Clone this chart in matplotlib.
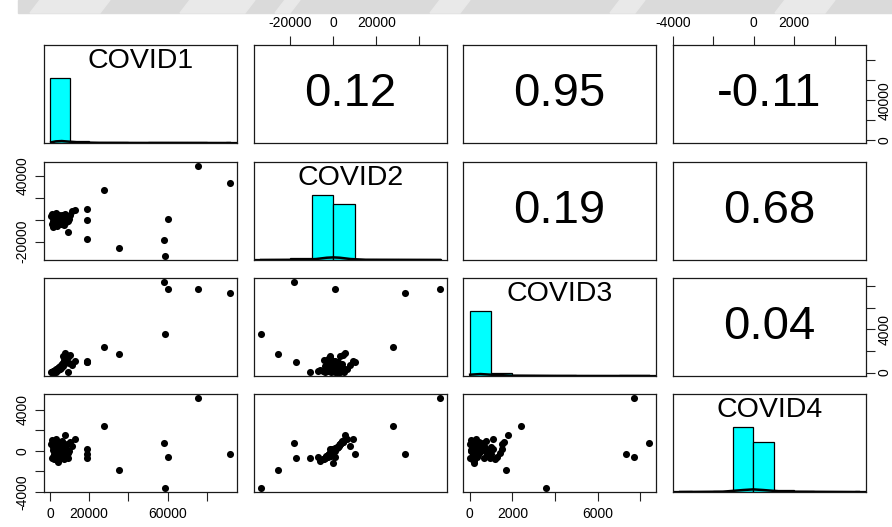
import numpy as np
import matplotlib
matplotlib.use('Agg')
from matplotlib import pyplot as plt
from matplotlib.patches import Rectangle, Polygon

plt.rcParams['font.family'] = ['Liberation Sans', 'DejaVu Sans']

#############################################
#DATA
names = ['COVID1', 'COVID2', 'COVID3', 'COVID4']

#one value per observation, same order in every variable
covid1 = [75400, 91800, 27700, 19000, 19000, 19000, 9200, 35000, 60000, 58000, 58500,
          600, 1000, 1200, 1500, 1800, 2000, 2200, 2500, 2800, 3000,
          3200, 3500, 3800, 4000, 4100, 4300, 4500, 4800, 5000, 5200,
          5500, 5800, 6000, 6200, 6500, 6800, 7000, 7200, 7500, 7700,
          8000, 8300, 8500, 9000, 9500, 10000, 11000, 12800, 3000, 6500,
          1500, 2500, 3500, 4500, 5500, 2000, 4000, 5000, 6000, 3000]
covid2 = [49500, 33200, 27600, 10100, 0, -17500, -11000, -25800, 900, -18400, -33500,
          3000, -4000, 5000, -1000, -7000, 2500, -5000, 4000, 0, -3500,
          6500, -2000, -6000, 1500, 0, -2500, 4500, -500, 3500, -1500,
          -4000, 2000, -2000, 1000, -3000, 500, -4500, 2000, -1000, 5600,
          -2500, 1000, 3000, -1500, 500, 4500, 8000, 9200, 1000, -1500,
          1500, -2500, 2500, -3500, 500, -1500, 3000, -500, 4000, -500]
covid3 = [7700, 7350, 2400, 1000, 1050, 950, 100, 1700, 7700, 8400, 3600,
          30, 20, 80, 60, 150, 100, 120, 200, 180, 250,
          300, 280, 220, 350, 200, 400, 450, 500, 600, 300,
          650, 550, 800, 700, 900, 600, 1200, 1000, 850, 1800,
          1300, 1100, 1500, 1400, 900, 1600, 660, 1100, 50, 1500,
          90, 140, 260, 330, 420, 170, 380, 480, 750, 230]
covid4 = [5200, -300, 2440, -300, 200, -700, -700, -1850, -600, 780, -3600,
          700, -700, 1100, 100, -600, 500, -800, 900, -100, -450,
          1200, -250, -900, 300, -1100, -350, 900, 0, 800, -150,
          -700, 400, -300, 300, -500, 150, -800, 400, -500, 1600,
          -600, 200, 700, -200, 0, 900, 500, 1200, 0, 200,
          400, -400, 600, -600, 100, -300, 700, -100, 1000, 250]

#correlations for the upper panels
corr_row = [0, 0, 0, 1, 1, 2]
corr_col = [1, 2, 3, 2, 3, 3]
corr_val = [0.12, 0.95, -0.11, 0.19, 0.68, 0.04]

#histogram bins (counts scaled to the tallest bar)
hist1_edges = [0, 10000, 20000, 30000, 40000, 50000, 60000, 70000, 80000, 90000, 100000]
hist1_heights = [1.0, 0.03, 0.01, 0.01, 0.0, 0.01, 0.01, 0.01, 0.0, 0.01]
hist2_edges = [-40000, -30000, -20000, -10000, 0, 10000, 20000, 30000, 40000, 50000]
hist2_heights = [0.01, 0.01, 0.03, 1.0, 0.86, 0.02, 0.01, 0.01, 0.01]
hist3_edges = [0, 1000, 2000, 3000, 4000, 5000, 6000, 7000, 8000, 9000]
hist3_heights = [1.0, 0.04, 0.01, 0.01, 0.01, 0.0, 0.0, 0.02, 0.02]
hist4_edges = [-4000, -3000, -2000, -1000, 0, 1000, 2000, 3000, 4000, 5000, 6000]
hist4_heights = [0.01, 0.0, 0.02, 1.0, 0.77, 0.03, 0.01, 0.0, 0.0, 0.01]

#density curves along the bottom of the histograms
dens1_x = [600, 3000, 6000, 10000, 15000, 25000, 50000, 91800]
dens1_y = [0.01, 0.025, 0.03, 0.02, 0.008, 0.002, 0.001, 0.0]
dens2_x = [-33500, -15000, -8000, -3000, 0, 3000, 8000, 15000, 49500]
dens2_y = [0.0, 0.003, 0.015, 0.035, 0.04, 0.035, 0.015, 0.003, 0.0]
dens3_x = [20, 500, 1000, 2000, 4000, 8400]
dens3_y = [0.02, 0.03, 0.02, 0.005, 0.001, 0.0]
dens4_x = [-3600, -1500, -500, 0, 500, 1500, 5200]
dens4_y = [0.0, 0.005, 0.03, 0.04, 0.03, 0.005, 0.0]

#axis ticks and which labels get printed on each side
ticks1 = [0, 20000, 40000, 60000, 80000]
ticks2 = [-20000, 0, 20000, 40000]
ticks3 = [0, 2000, 4000, 6000, 8000]
ticks4 = [-4000, -2000, 0, 2000, 4000]
bottom1 = ['0', '20000', '', '60000', '']
right1 = ['0', '', '40000', '', '']
top2 = ['-20000', '0', '20000', '']
left2 = ['-20000', '', '', '40000']
bottom3 = ['0', '2000', '', '6000', '']
right3 = ['0', '', '4000', '', '']
top4 = ['-4000', '', '0', '2000', '']
left4 = ['-4000', '', '0', '', '4000']
#############################################

data = [covid1, covid2, covid3, covid4]
hists = [(hist1_edges, hist1_heights), (hist2_edges, hist2_heights),
         (hist3_edges, hist3_heights), (hist4_edges, hist4_heights)]
dens = [(dens1_x, dens1_y), (dens2_x, dens2_y), (dens3_x, dens3_y), (dens4_x, dens4_y)]
ticks = [ticks1, ticks2, ticks3, ticks4]

#R style range: data range padded 4% each side
lims = []
for v in data:
    lo, hi = min(v), max(v)
    pad = 0.04 * (hi - lo)
    lims.append((lo - pad, hi + pad))

W, H = 892, 527
col_left = [44, 254, 463, 673]
row_top = [45, 162, 278, 394]
pw, ph = 193, 98

fig = plt.figure(figsize=(W / 100, H / 100), dpi=100)

#faint grey banner across the top edge
fig.patches.append(Rectangle((18 / W, 1 - 13 / H), (W - 18) / W, 13 / H,
                             transform=fig.transFigure, color='#dadada', zorder=0))
for x0, x1 in [(40, 110), (190, 255), (285, 300), (440, 470), (620, 645), (785, 835)]:
    fig.patches.append(Polygon([(x0 / W, 1), (x1 / W, 1), ((x1 - 10) / W, 1 - 13 / H),
                                ((x0 - 10) / W, 1 - 13 / H)],
                               transform=fig.transFigure, color='#e9e9e9', zorder=0))

tick_kw = dict(direction='out', length=6.5, width=0.8, labelsize=10, pad=4, color='#222222')

for i in range(4):
    for j in range(4):
        ax = fig.add_axes([col_left[j] / W, 1 - (row_top[i] + ph) / H, pw / W, ph / H])
        ax.set_xlim(lims[j])
        ax.set_ylim((0, 1.5) if i == j else lims[i])
        ax.set_xticks([])
        ax.set_yticks([])
        for s in ax.spines.values():
            s.set_linewidth(0.9)
            s.set_color('#1a1a1a')

        if i > j:
            ax.scatter(data[j], data[i], s=26, color='black', linewidths=0)
        elif i == j:
            edges, heights = hists[i]
            ax.bar(edges[:-1], heights, width=np.diff(edges), align='edge',
                   color='cyan', edgecolor='black', linewidth=0.9)
            ax.plot(dens[i][0], dens[i][1], color='black', linewidth=1.8)
            ax.text(0.5, 5 / 6, names[i], transform=ax.transAxes,
                    ha='center', va='center', fontsize=20.5)
        else:
            k = [n for n in range(6) if corr_row[n] == i and corr_col[n] == j][0]
            ax.text(0.5, 0.5, f'{corr_val[k]:.2f}', transform=ax.transAxes,
                    ha='center', va='center', fontsize=34)

        #outer axes alternate sides like pairs()
        if i == 0 and j % 2 == 1:
            ax.xaxis.set_ticks_position('top')
            ax.set_xticks(ticks[j])
            ax.set_xticklabels(top2 if j == 1 else top4)
            ax.tick_params(axis='x', **tick_kw)
        if i == 3 and j % 2 == 0:
            ax.set_xticks(ticks[j])
            ax.set_xticklabels(bottom1 if j == 0 else bottom3)
            ax.tick_params(axis='x', **tick_kw)
        if j == 0 and i % 2 == 1:
            ax.set_yticks(ticks[i])
            ax.set_yticklabels(left2 if i == 1 else left4)
            ax.tick_params(axis='y', **tick_kw)
            for lab in ax.get_yticklabels():
                lab.set_rotation(90)
                lab.set_va('center')
                lab.set_ha('right')
        if j == 3 and i % 2 == 0:
            ax.yaxis.set_ticks_position('right')
            ax.set_yticks(ticks[i])
            ax.set_yticklabels(right1 if i == 0 else right3)
            ax.tick_params(axis='y', **dict(tick_kw, pad=2))
            for lab in ax.get_yticklabels():
                lab.set_rotation(90)
                lab.set_va('center')
                lab.set_ha('left')

plt.savefig('out.png', dpi=100)
